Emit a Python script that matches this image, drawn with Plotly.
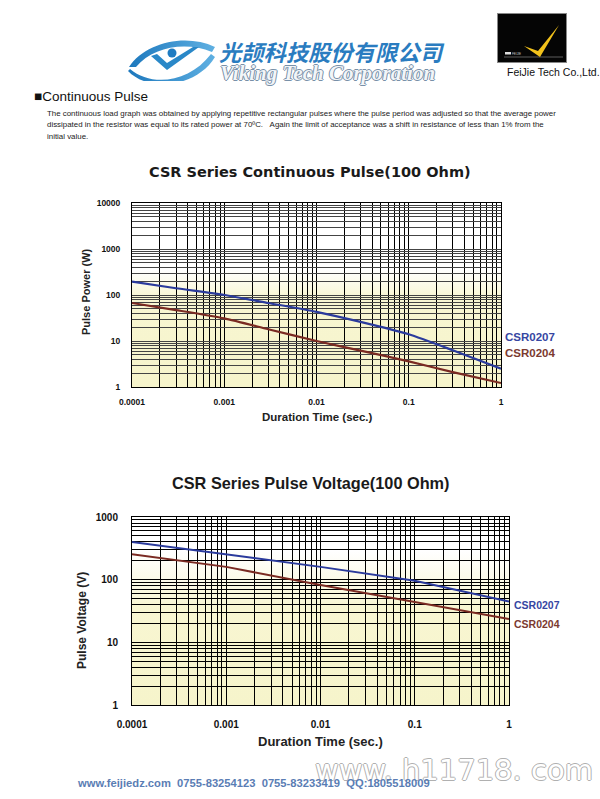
import base64
import plotly.graph_objects as go

# ---------------- data ----------------
duration_power = [0.0001, 0.0003, 0.001, 0.003, 0.01, 0.03, 0.1, 0.3, 1]
power_csr0207 = [195, 140, 100, 67, 43, 26, 14, 6.3, 2.5]
power_csr0204 = [67, 47, 31, 18, 10, 6.2, 3.6, 2.1, 1.22]

duration_voltage = [0.0001, 0.001, 0.01, 0.1, 1]
voltage_csr0207 = [400, 252, 160, 96, 45]
voltage_csr0204 = [255, 160, 82, 44, 23.5]

x_decades = [0.0001, 0.001, 0.01, 0.1, 1]
x_labels = ["0.0001", "0.001", "0.01", "0.1", "1"]
power_decades = [1, 10, 100, 1000, 10000]
power_labels = ["1", "10", "100", "1000", "10000"]
volt_decades = [1, 10, 100, 1000]
volt_labels = ["1", "10", "100", "1000"]

series_names = ["CSR0207", "CSR0204"]

BLUE = "#2a3a9c"
RED = "#7a2a22"
BLUE_TXT = "#3646a2"
RED_TXT = "#7b3a30"
FONT = "Liberation Sans"

W, H = 600, 799


def px(x):
    return x / W


def py(y):
    return 1 - y / H


def full_ticks(decades, labels):
    vals, txt = [], []
    for i, d in enumerate(decades):
        vals.append(d)
        txt.append(labels[i])
        if i < len(decades) - 1:
            for m in range(2, 10):
                vals.append(d * m)
                txt.append("")
    return vals, txt


def svg_uri(svg):
    return "data:image/svg+xml;base64," + base64.b64encode(svg.encode()).decode()


fig = go.Figure()

fig.add_trace(go.Scatter(x=duration_power, y=power_csr0207, mode="lines",
                         line=dict(color=BLUE, width=2.2, shape="spline", smoothing=0.6),
                         name=series_names[0], xaxis="x", yaxis="y"))
fig.add_trace(go.Scatter(x=duration_power, y=power_csr0204, mode="lines",
                         line=dict(color=RED, width=2.2, shape="spline", smoothing=0.6),
                         name=series_names[1], xaxis="x", yaxis="y"))
fig.add_trace(go.Scatter(x=duration_voltage, y=voltage_csr0207, mode="lines",
                         line=dict(color=BLUE, width=2),
                         name=series_names[0], xaxis="x2", yaxis="y2"))
fig.add_trace(go.Scatter(x=duration_voltage, y=voltage_csr0204, mode="lines",
                         line=dict(color=RED, width=2),
                         name=series_names[1], xaxis="x2", yaxis="y2"))

xv, xt = full_ticks(x_decades, x_labels)
pv, pt = full_ticks(power_decades, power_labels)
vv, vt = full_ticks(volt_decades, volt_labels)

common = dict(type="log", showgrid=True, gridwidth=1, zeroline=False, ticks="",
              showline=True, linecolor="#000", linewidth=1, mirror=True, automargin=False)
right_ticks = dict(type="log", side="right", showgrid=False, zeroline=False,
                   ticks="outside", ticklen=4, tickcolor="#222", showticklabels=False,
                   showline=False, automargin=False)

fig.update_layout(
    width=W, height=H, margin=dict(l=0, r=0, t=0, b=0, pad=0, autoexpand=False),
    paper_bgcolor="white", plot_bgcolor="white", showlegend=False,
    font=dict(family=FONT, color="#111"),
    xaxis=dict(common, domain=[px(132), px(501)], anchor="y", range=[-4, 0],
               tickvals=xv, ticktext=xt, gridcolor="#000",
               tickfont=dict(size=8.5, weight="bold", color="#111"), ticklabelstandoff=7),
    yaxis=dict(common, domain=[py(387), py(203)], anchor="x", range=[0, 4],
               tickvals=pv, ticktext=pt, gridcolor="#444",
               tickfont=dict(size=8.5, weight="bold", color="#111"), ticklabelstandoff=9),
    xaxis2=dict(common, domain=[px(132), px(509)], anchor="y2", range=[-4, 0],
                tickvals=xv, ticktext=xt, gridcolor="#000",
                tickfont=dict(size=10, weight="bold", color="#111"), ticklabelstandoff=10),
    yaxis2=dict(common, domain=[py(705), py(517)], anchor="x2", range=[0, 3],
                tickvals=vv, ticktext=vt, gridcolor="#000",
                tickfont=dict(size=10, weight="bold", color="#111"), ticklabelstandoff=11),
    yaxis3=dict(right_ticks, overlaying="y", anchor="x", range=[0, 4],
                tickvals=power_decades),
    yaxis4=dict(right_ticks, overlaying="y2", anchor="x2", range=[0, 3],
                tickvals=volt_decades),
)


def gradient(a, b):
    return ('<svg xmlns="http://www.w3.org/2000/svg" width="100" height="100" preserveAspectRatio="none">'
            '<defs><linearGradient id="g" x1="0" y1="0" x2="0" y2="1">'
            f'<stop offset="{a}" stop-color="#ffffff"/><stop offset="{b}" stop-color="#f8f6d2"/>'
            '<stop offset="1" stop-color="#f6f4cb"/></linearGradient></defs>'
            '<rect width="100" height="100" fill="url(#g)"/></svg>')


for xr, yr, a, b in [("x domain", "y domain", 0.36, 0.52), ("x2 domain", "y2 domain", 0.18, 0.48)]:
    fig.add_layout_image(source=svg_uri(gradient(a, b)), xref=xr, yref=yr, x=0, y=1,
                         sizex=1, sizey=1, xanchor="left", yanchor="top",
                         sizing="stretch", layer="below")

# Viking eye logo
eye = ('<svg xmlns="http://www.w3.org/2000/svg" width="90" height="46" viewBox="0 0 90 46">'
       '<defs><linearGradient id="b" x1="0" y1="0" x2="1" y2="0">'
       '<stop offset="0" stop-color="#1d78bd"/><stop offset="1" stop-color="#5fb0e2"/></linearGradient></defs>'
       '<path d="M2,32 C18,8 58,-2 88,12 L85,17 C58,6 26,12 9,32 Z" fill="url(#b)"/>'
       '<path d="M3,34 C24,52 62,48 84,19 L88,22 C70,52 22,58 1,36 Z" fill="url(#b)"/>'
       '<circle cx="45" cy="18" r="4.5" fill="#1f7cc2"/>'
       '<path d="M24,21 L40,35 L72,12 L66,12 L40,28 L30,19 Z" fill="#2a88c8"/>'
       '</svg>')
fig.add_layout_image(source=svg_uri(eye), xref="paper", yref="paper", x=px(127), y=py(35),
                     sizex=px(90), sizey=46 / H, xanchor="left", yanchor="top",
                     sizing="stretch", layer="above")

# FeiJie logo
fj = ('<svg xmlns="http://www.w3.org/2000/svg" width="70" height="50" viewBox="0 0 70 50">'
      '<rect x="0.5" y="0.5" width="69" height="49" fill="#050505" stroke="#888" stroke-width="1"/>'
      '<line x1="7" y1="44" x2="66" y2="44" stroke="#999" stroke-width="0.6"/>'
      '<rect x="8" y="39" width="6" height="2.5" fill="#ddd"/>'
      '<text x="15" y="41.5" font-size="3" fill="#ccc" font-family="Liberation Sans">FEIJIE</text>'
      '<path d="M27,33 L43,44 L62,12 L41,38 Z" fill="#f2c21b"/>'
      '</svg>')
fig.add_layout_image(source=svg_uri(fj), xref="paper", yref="paper", x=px(497), y=py(13),
                     sizex=px(70), sizey=50 / H, xanchor="left", yanchor="top",
                     sizing="stretch", layer="above")


def ann(text, x, y, size, color="#111", xanchor="center", weight="normal", family=FONT,
        angle=0, style="normal", shadow=None):
    f = dict(size=size, color=color, family=family, weight=weight, style=style)
    if shadow:
        f["shadow"] = shadow
    fig.add_annotation(text=text, x=px(x), y=py(y), xref="paper", yref="paper",
                       xanchor=xanchor, yanchor="middle", showarrow=False, font=f,
                       textangle=angle)


# header text
ann("光颉科技股份有限公司", 217, 51, 22.3, color="#2a7cc0", xanchor="left", weight="bold",
    family="Noto Sans CJK SC", style="italic")
ann("Viking Tech Corporation", 218, 73, 21, color="#f2f5f8", xanchor="left", weight="bold",
    family="Liberation Serif", style="italic",
    shadow="-1px 0 #7890a8, 1px 0 #7890a8, 0 -1px #7890a8, 0 1px #7890a8")
ann("FeiJie Tech Co.,Ltd.", 505, 72, 10.5, color="#111", xanchor="left")
ann("■Continuous Pulse", 32, 96, 13.5, color="#111", xanchor="left")
ann("The continuous load graph was obtained by applying repetitive rectangular pulses where the pulse period was adjusted so that the average power",
    45, 113, 7.9, color="#222", xanchor="left")
ann("dissipated in the resistor was equal to its rated power at 70ºC.&nbsp;&nbsp;&nbsp;Again the limit of acceptance was a shift in resistance of less than 1% from the",
    45, 125, 7.9, color="#222", xanchor="left")
ann("initial value.", 45, 137, 7.9, color="#222", xanchor="left")

# chart titles and axis titles
ann("CSR Series Continuous Pulse(100 Ohm)", 310, 172, 14.5, weight="bold", color="#1a1a1a",
    family="DejaVu Sans")
ann("Duration Time (sec.)", 317, 417, 11.5, weight="bold", color="#222")
ann("Pulse Power (W)", 86, 292, 11, weight="bold", color="#222", angle=-90)
ann("CSR0207", 503, 337, 11.5, color=BLUE_TXT, xanchor="left", weight="bold")
ann("CSR0204", 503, 353, 11.5, color=RED_TXT, xanchor="left", weight="bold")

ann("CSR Series Pulse Voltage(100 Ohm)", 310, 483, 16.3, weight="bold", color="#1a1a1a")
ann("Duration Time (sec.)", 320, 741, 13, weight="bold", color="#222")
ann("Pulse Voltage (V)", 82, 621, 12, weight="bold", color="#222", angle=-90)
ann("CSR0207", 512, 605, 10.5, color=BLUE_TXT, xanchor="left", weight="bold")
ann("CSR0204", 512, 624, 10.5, color=RED_TXT, xanchor="left", weight="bold")

# footer
ann("www. h11718. com", 454, 770, 29, color="#ffffff", family="DejaVu Sans",
    shadow="-1px 0 #b0b0b0, 1px 0 #b0b0b0, 0 -1px #b0b0b0, 0 1px #b0b0b0")
ann("www.feijiedz.com&nbsp;&nbsp;0755-83254123&nbsp;&nbsp;0755-83233419&nbsp;&nbsp;QQ:1805518009",
    75, 783, 11.2, color="#5a7db4", xanchor="left", weight="bold")

fig.write_html("out.html", config={"displayModeBar": False},
               post_script="document.body.style.margin='0';document.body.style.overflow='hidden';")
